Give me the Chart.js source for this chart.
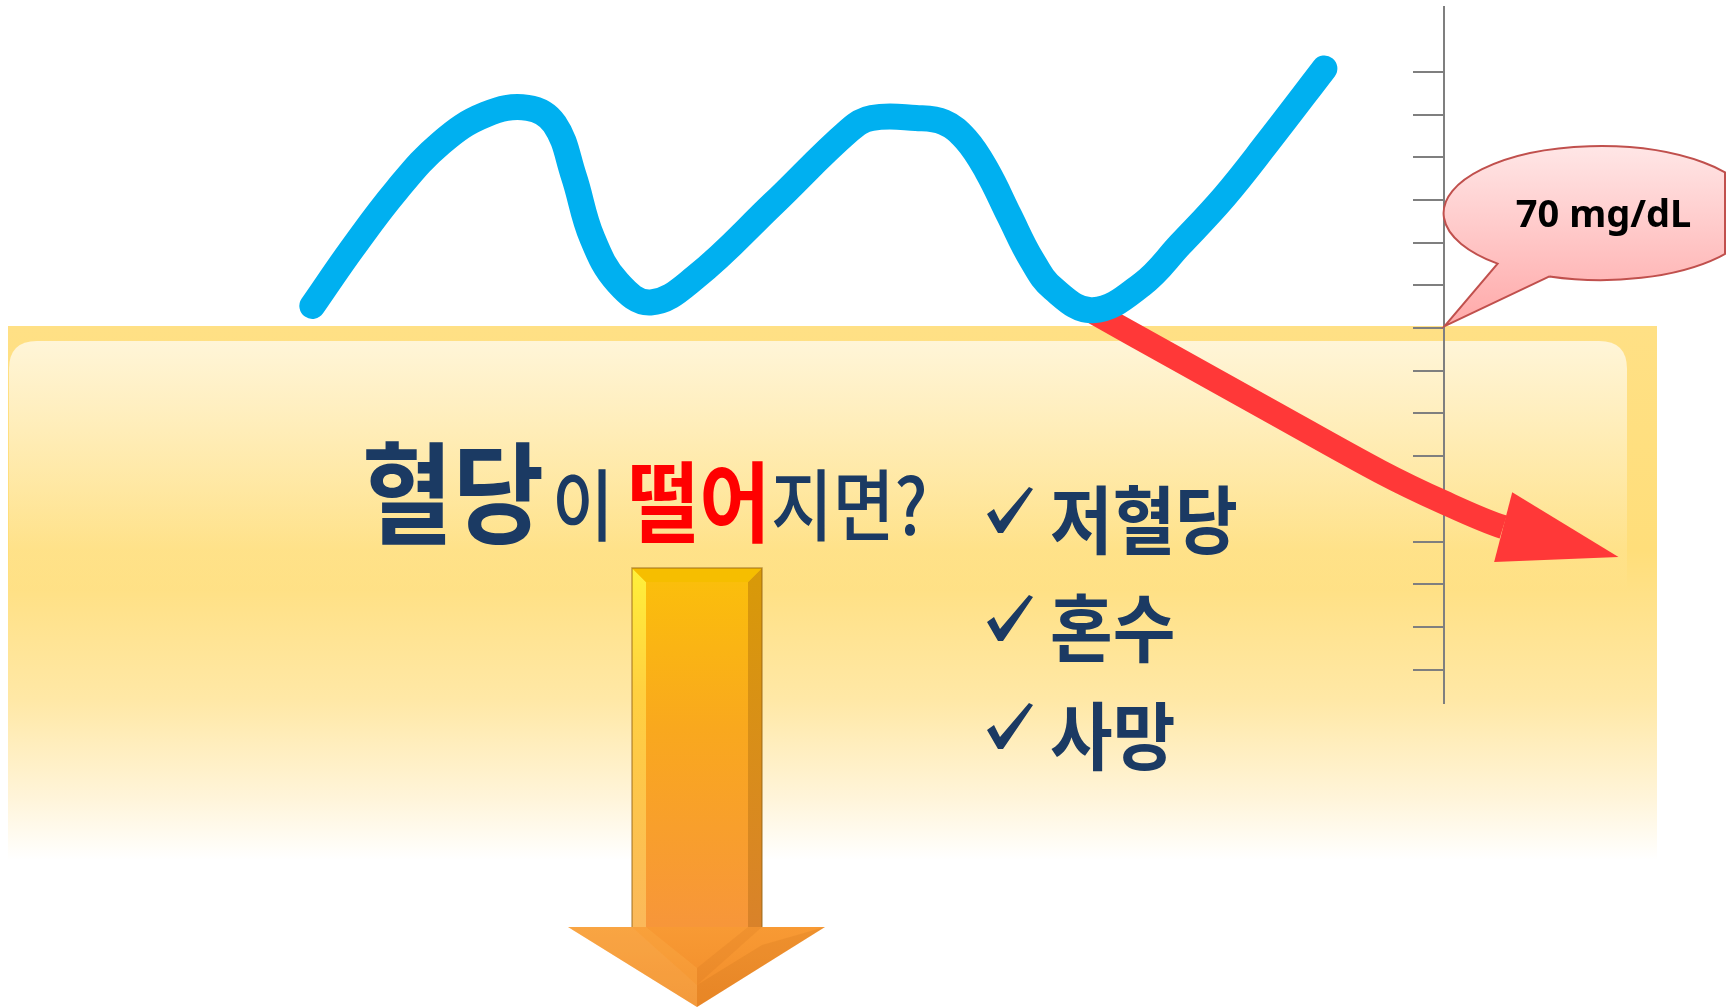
<!DOCTYPE html>
<html lang="ko">
<head>
<meta charset="utf-8">
<title>혈당이 떨어지면?</title>
<script src="https://cdn.jsdelivr.net/npm/chart.js@4.4.1/dist/chart.umd.min.js"></script>
<style>
  html, body { margin: 0; padding: 0; background: #fff; }
  #wrap { position: relative; width: 1730px; height: 1008px; }
</style>
</head>
<body>
<div id="wrap"><canvas id="myChart"></canvas></div>
<script>
// blood glucose curve (time in minutes, glucose in mg/dL)
const glucoseTime = [32.5, 36.7, 41.3, 45.9, 50.5, 54.9, 57.7, 59.7, 61.6, 64.3, 67.7, 72.3, 80.4, 88.4,
  90.7, 95.3, 98.2, 100.5, 102.7, 105.0, 107.3, 109.6, 113.7, 118.8, 122.8, 127.4, 132.0, 137.8];
const glucoseLevel = [72.6, 79.4, 86.2, 91.7, 95.0, 95.8, 93.9, 87.8, 80.6, 75.3, 73.0, 75.9, 84.5, 93.2,
  94.6, 94.6, 94.1, 92.1, 88.4, 83.2, 78.1, 74.6, 72.1, 75.1, 79.8, 85.4, 91.9, 100.4];

// the drop below the threshold (last point = arrow tip)
const dropTime = [113.7, 122.3, 132.2, 143.6, 150.2, 156.4, 168.4];
const dropLevel = [71.9, 66.5, 60.3, 53.2, 49.6, 46.7, 43.2];

// axis tick values (mg/dL)
const axisTicks = [30, 35, 40, 45, 50, 55, 60, 65, 70, 75, 80, 85, 90, 95, 100];
const thresholdValue = 70;
const thresholdLabel = '70 mg/dL';

// texts
const titleWords = ['혈당', '이', '떨어', '지면?'];
const symptoms = ['저혈당', '혼수', '사망'];

const NAVY = '#1B3A63';
const KR = '"Noto Sans CJK KR", "Noto Sans", sans-serif';
const AXIS_AT = 150.2; // time value where the glucose axis sits

function toPoints(xs, ys) {
    return xs.map((x, i) => ({ x: x, y: ys[i] }));
}

function drawText(ctx, text, x, y, font, color, sx) {
    ctx.save();
    ctx.font = font;
    ctx.fillStyle = color;
    ctx.textBaseline = 'alphabetic';
    ctx.translate(x, y);
    ctx.scale(sx, 1);
    ctx.fillText(text, 0, 0);
    ctx.restore();
}

function roundRect(ctx, x, y, w, h, r) {
    ctx.beginPath();
    ctx.moveTo(x + r, y);
    ctx.lineTo(x + w - r, y);
    ctx.quadraticCurveTo(x + w, y, x + w, y + r);
    ctx.lineTo(x + w, y + h - r);
    ctx.quadraticCurveTo(x + w, y + h, x + w - r, y + h);
    ctx.lineTo(x + r, y + h);
    ctx.quadraticCurveTo(x, y + h, x, y + h - r);
    ctx.lineTo(x, y + r);
    ctx.quadraticCurveTo(x, y, x + r, y);
    ctx.closePath();
}

function poly(ctx, pts) {
    ctx.beginPath();
    pts.forEach((p, i) => i ? ctx.lineTo(p[0], p[1]) : ctx.moveTo(p[0], p[1]));
    ctx.closePath();
}

function drawCheck(ctx, x, y) {
    const pts = [[0, 27], [7, 22], [13, 34], [42, 0], [46, 2], [16, 46], [11, 46]];
    poly(ctx, pts.map(p => [x + p[0], y + p[1]]));
    ctx.fillStyle = NAVY;
    ctx.fill();
}

function drawDownArrow(ctx) {
    const L = 632, R = 762, T = 568, B = 927, b = 14;
    // shaft
    let g = ctx.createLinearGradient(0, T, 0, B);
    g.addColorStop(0, '#FBC00A');
    g.addColorStop(0.45, '#F9A81E');
    g.addColorStop(1, '#F7963A');
    ctx.fillStyle = g;
    ctx.fillRect(L, T, R - L, B - T);
    // head
    g = ctx.createLinearGradient(0, B, 0, 1007);
    g.addColorStop(0, '#F89A34');
    g.addColorStop(1, '#F18C2A');
    ctx.fillStyle = g;
    poly(ctx, [[568, B], [825, B], [697, 1007]]);
    ctx.fill();
    // head facets
    ctx.fillStyle = 'rgba(180,95,15,0.14)';
    poly(ctx, [[697, 985], [R, 945], [825, B], [697, 1007]]);
    ctx.fill();
    ctx.fillStyle = 'rgba(255,210,130,0.2)';
    poly(ctx, [[568, B], [L, B], [697, 985], [697, 1007]]);
    ctx.fill();
    // shaft bottom chevron
    ctx.fillStyle = 'rgba(255,190,90,0.2)';
    poly(ctx, [[L, B], [L + b, B], [697, 968], [697, 985]]);
    ctx.fill();
    ctx.fillStyle = 'rgba(190,100,20,0.14)';
    poly(ctx, [[R, B], [R - b, B], [697, 968], [697, 985]]);
    ctx.fill();
    // left bevel
    g = ctx.createLinearGradient(0, T, 0, B);
    g.addColorStop(0, '#FFF03A');
    g.addColorStop(0.35, '#FFD040');
    g.addColorStop(1, '#FBB85A');
    ctx.fillStyle = g;
    poly(ctx, [[L, T], [L + b, T + b], [L + b, B], [L, B]]);
    ctx.fill();
    // right bevel
    g = ctx.createLinearGradient(0, T, 0, B);
    g.addColorStop(0, '#D89A08');
    g.addColorStop(1, '#D9822A');
    ctx.fillStyle = g;
    poly(ctx, [[R, T], [R - b, T + b], [R - b, B], [R, B]]);
    ctx.fill();
    // top bevel
    ctx.fillStyle = '#F6BE00';
    poly(ctx, [[L, T], [R, T], [R - b, T + b], [L + b, T + b]]);
    ctx.fill();
    ctx.strokeStyle = 'rgba(150,100,20,0.6)';
    ctx.lineWidth = 1.5;
    ctx.beginPath();
    ctx.moveTo(L, B); ctx.lineTo(L, T); ctx.lineTo(R, T); ctx.lineTo(R, B);
    ctx.stroke();
}

const decorations = {
    id: 'decorations',
    beforeDraw(chart) {
        const ctx = chart.ctx;
        ctx.save();
        // yellow panel
        let g = ctx.createLinearGradient(0, 326, 0, 860);
        g.addColorStop(0, '#FFE085');
        g.addColorStop(0.42, '#FFDE7A');
        g.addColorStop(0.7, '#FFE8A6');
        g.addColorStop(0.88, '#FFF4D8');
        g.addColorStop(1, '#FFFFFF');
        ctx.fillStyle = g;
        ctx.fillRect(8, 326, 1649, 534);
        // inner highlight
        g = ctx.createLinearGradient(0, 341, 0, 590);
        g.addColorStop(0, 'rgba(255,246,220,0.95)');
        g.addColorStop(1, 'rgba(255,246,220,0)');
        ctx.fillStyle = g;
        roundRect(ctx, 9, 341, 1618, 300, 28);
        ctx.fill();

        // title
        drawText(ctx, titleWords[0], 362, 535, 'bold 110px ' + KR, NAVY, 0.9);
        drawText(ctx, titleWords[1], 552, 535, '500 78px ' + KR, NAVY, 0.86);
        drawText(ctx, titleWords[2], 628, 535, 'bold 88px ' + KR, '#FF0000', 0.88);
        drawText(ctx, titleWords[3], 771, 535, '500 78px ' + KR, NAVY, 0.86);

        // symptom list
        symptoms.forEach((s, i) => {
            drawCheck(ctx, 987, 487 + i * 108);
            drawText(ctx, s, 1050, 548 + i * 108, 'bold 74px ' + KR, NAVY, 0.92);
        });

        drawDownArrow(ctx);
        ctx.restore();
    },
    afterDraw(chart) {
        const ctx = chart.ctx;
        const xs = chart.scales.x, ys = chart.scales.y;
        ctx.save();
        // arrowhead on the drop line
        const n = dropTime.length;
        const tx = xs.getPixelForValue(dropTime[n - 1]), ty = ys.getPixelForValue(dropLevel[n - 1]);
        const bx = xs.getPixelForValue(dropTime[n - 2]), by = ys.getPixelForValue(dropLevel[n - 2]);
        const len = Math.hypot(tx - bx, ty - by);
        const px = -(ty - by) / len * 36, py = (tx - bx) / len * 36;
        ctx.fillStyle = '#FF3838';
        poly(ctx, [[tx, ty], [bx + px, by + py], [bx - px, by - py]]);
        ctx.fill();

        // callout for the threshold, clipped at the right edge like the original
        const cx0 = xs.getPixelForValue(AXIS_AT), cy0 = ys.getPixelForValue(thresholdValue);
        const ex = cx0 + 157, ey = cy0 - 115, rx = 157, ry = 67;
        const a1 = 131 * Math.PI / 180, a2 = 109 * Math.PI / 180;
        const edge = 1726;
        ctx.save();
        ctx.beginPath();
        ctx.rect(0, 0, edge, chart.height);
        ctx.clip();
        const g = ctx.createLinearGradient(0, ey - ry, 0, cy0);
        g.addColorStop(0, '#FFE6E6');
        g.addColorStop(1, '#FFA8A8');
        ctx.beginPath();
        ctx.moveTo(ex + rx * Math.cos(a2), ey + ry * Math.sin(a2));
        ctx.lineTo(cx0 + 1, cy0 - 2);
        ctx.lineTo(ex + rx * Math.cos(a1), ey + ry * Math.sin(a1));
        ctx.ellipse(ex, ey, rx, ry, 0, a1, a2 + Math.PI * 2, false);
        ctx.closePath();
        ctx.fillStyle = g;
        ctx.fill();
        ctx.strokeStyle = '#C0504D';
        ctx.lineWidth = 2;
        ctx.stroke();
        ctx.restore();
        const dy = ry * Math.sqrt(Math.max(0, 1 - Math.pow((edge - ex) / rx, 2)));
        ctx.strokeStyle = '#C0504D';
        ctx.lineWidth = 2;
        ctx.beginPath();
        ctx.moveTo(edge - 1, ey - dy);
        ctx.lineTo(edge - 1, ey + dy);
        ctx.stroke();

        ctx.font = 'bold 38px "Noto Sans", sans-serif';
        ctx.fillStyle = '#000';
        ctx.textAlign = 'center';
        ctx.textBaseline = 'alphabetic';
        ctx.fillText(thresholdLabel, ex + 3, ey + 14);
        ctx.restore();
    }
};

const ctx = document.getElementById('myChart').getContext('2d');
const lastSeg = dropTime.length - 2;
const myChart = new Chart(ctx, {
    type: 'line',
    data: {
        datasets: [{
            label: '혈당',
            data: toPoints(glucoseTime, glucoseLevel),
            borderColor: '#00B0F0',
            borderWidth: 26,
            borderCapStyle: 'round',
            borderJoinStyle: 'round',
            tension: 0.4,
            pointRadius: 0,
            fill: false
        }, {
            label: '저혈당',
            data: toPoints(dropTime, dropLevel),
            borderColor: '#FF3838',
            borderWidth: 24,
            borderCapStyle: 'butt',
            tension: 0.3,
            pointRadius: 0,
            fill: false,
            segment: {
                borderColor: c => c.p0DataIndex === lastSeg ? 'rgba(0,0,0,0)' : undefined
            }
        }]
    },
    options: {
        responsive: true,
        maintainAspectRatio: false,
        animation: false,
        events: [],
        layout: { padding: { top: 7, bottom: 305, left: 0, right: 0 } },
        plugins: {
            legend: { display: false },
            tooltip: { enabled: false }
        },
        scales: {
            x: {
                type: 'linear',
                min: 0,
                max: 180,
                display: false
            },
            y: {
                type: 'linear',
                min: 26.1,
                max: 107.6,
                position: { x: AXIS_AT },
                afterBuildTicks: axis => { axis.ticks = axisTicks.map(v => ({ value: v })); },
                ticks: { display: false },
                grid: {
                    drawOnChartArea: false,
                    drawTicks: true,
                    tickLength: 30,
                    color: '#7F7F7F',
                    lineWidth: 2
                },
                border: { display: true, color: '#7F7F7F', width: 2 }
            }
        }
    },
    plugins: [decorations]
});
</script>
</body>
</html>
